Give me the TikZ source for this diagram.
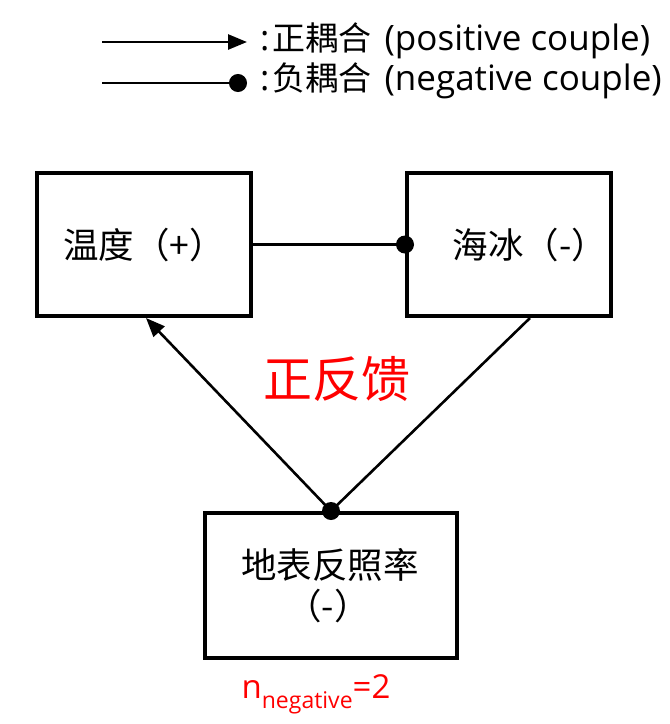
\documentclass[tikz,border=0pt]{standalone}
\usepackage{fontspec}
\setmainfont{Open Sans}
\newfontfamily\cjk{Noto Sans CJK SC}
\usetikzlibrary{arrows.meta}
\tikzset{
  boxnode/.style={draw=black,line width=4pt,minimum width=#1,inner sep=0pt,minimum height=143pt},
  lbl/.style={inner sep=0pt,font=\cjk\fontsize{35.5}{40}\selectfont},
  legtext/.style={inner sep=0pt,anchor=west,font=\fontsize{35}{40}\selectfont},
  conn/.style={line width=2.6pt},
  posarrow/.style={conn,-{Triangle[length=19pt,width=15pt]}},
  negdot/.style={conn,-{Circle[length=18pt]}},
  redtext/.style={inner sep=0pt,text=red},
}
\newcommand{\legcj}[1]{\hspace{3pt}{\cjk\fontsize{33}{38}\selectfont #1}\hspace{4pt}}
\begin{document}
\begin{tikzpicture}[x=1pt,y=-1pt]
\useasboundingbox (0,0) rectangle (670,724);
% legend
\coordinate (p1) at (102,42);
\coordinate (p2) at (247,42);
\coordinate (n1) at (102,83);
\coordinate (n2) at (247,83);
\draw[posarrow] (p1) -- (p2);
\draw[negdot] (n1) -- (n2);
\node[legtext] (pt) at (260,41) {:\legcj{正耦合} (positive couple)};
\node[legtext] (nt) at (260,81) {:\legcj{负耦合} (negative couple)};
% boxes
\node[boxnode=214pt] (T) at (144,244.5) {};
\node[boxnode=204pt] (S) at (509,244.5) {};
\node[boxnode=252pt,minimum height=145pt] (A) at (331,585.5) {};
\node[lbl] (Tt) at (144,245) {温度（+）};
\node[lbl] (St) at (530,245) {海冰（-）};
\node[lbl] (At1) at (330,565) {地表反照率};
\node[lbl] (At2) at (328,606) {（-）};
% connectors
\coordinate (Tb) at (146,318);
\coordinate (Sb) at (530,318);
\draw[conn] (T.east) -- (S.west);
\fill (S.west) circle (9pt);
\draw[posarrow] (A.north) -- (Tb);
\draw[conn] (Sb) -- (A.north);
\fill (A.north) circle (9pt);
% labels
\node[redtext,font=\cjk\fontsize{49}{54}\selectfont] (pf) at (337,379) {正反馈};
\node[redtext,font=\fontsize{33}{38}\selectfont] (nn) at (316,694) {n\raisebox{-0.3em}{\fontsize{23}{28}\selectfont negative}=2};
\end{tikzpicture}
\end{document}
